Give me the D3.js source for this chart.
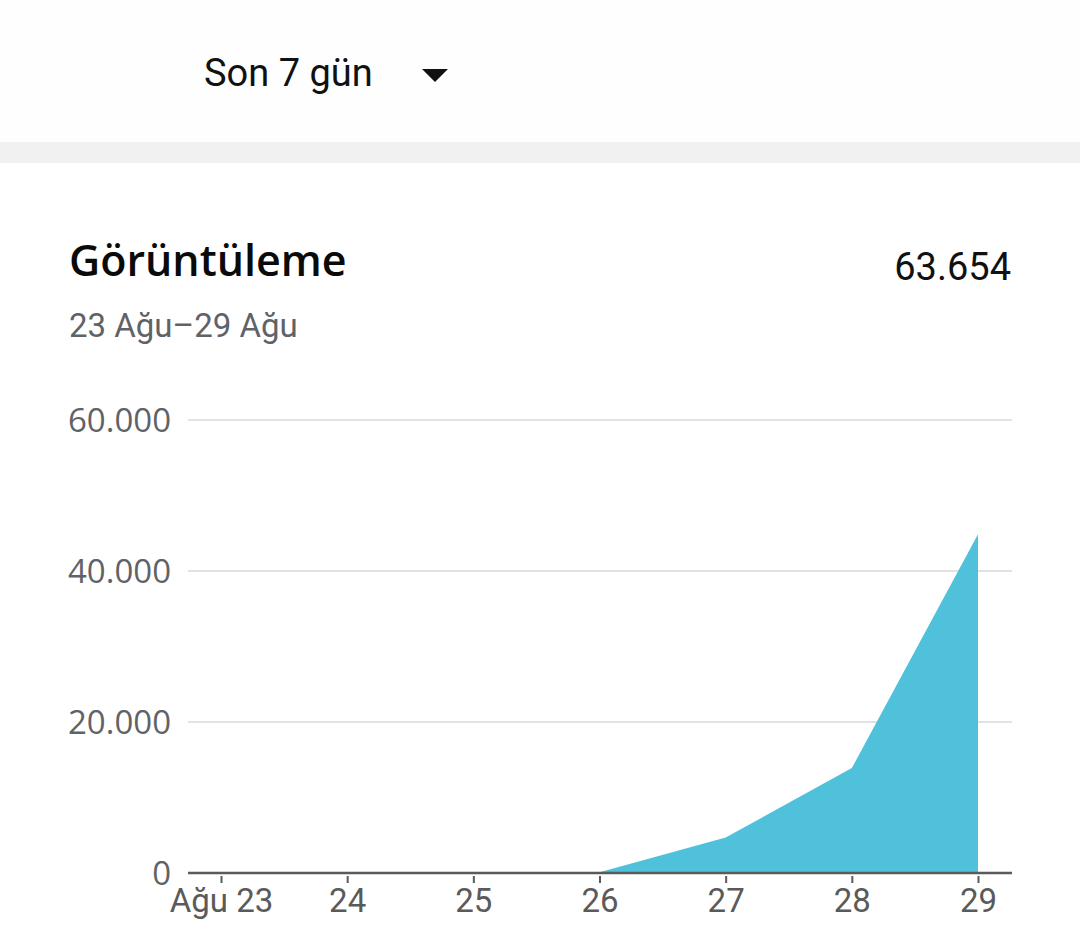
<!DOCTYPE html>
<html>
<head>
<meta charset="utf-8">
<script src="https://cdn.jsdelivr.net/npm/d3@7"></script>
<style>
  body { margin: 0; background: #ffffff; }
  svg { display: block; }
</style>
</head>
<body>
<svg id="chart"></svg>
<script>
// chart data
const days = ["Ağu 23", "24", "25", "26", "27", "28", "29"];
const views = [0, 10, 60, 100, 4700, 13900, 44884];
const yTicks = [0, 20000, 40000, 60000];
const totalLabel = "63.654";
const rangeLabel = "23 Ağu–29 Ağu";

const W = 1080, H = 949;
const margin = { left: 188, right: 68, top: 420, bottom: 76 };

const svg = d3.select('#chart')
    .attr('width', W)
    .attr('height', H);

// page background
svg.append('rect').attr('width', W).attr('height', H).attr('fill', '#ffffff');
svg.append('rect').attr('width', W).attr('height', 142).attr('fill', '#fefefe');
svg.append('rect').attr('y', 142).attr('width', W).attr('height', 21).attr('fill', '#f1f1f1');

// dropdown
svg.append('text')
    .attr('x', 204).attr('y', 86)
    .style('font-family', 'Roboto')
    .style('font-size', '38px')
    .attr('fill', '#111')
    .text('Son 7 gün');
svg.append('path')
    .attr('d', 'M422,69 L448,69 L435,82 Z')
    .attr('fill', '#111');

// header
svg.append('text')
    .attr('x', 69).attr('y', 276)
    .style('font-family', '"Open Sans"')
    .style('font-weight', 600)
    .style('font-size', '43px')
    .attr('fill', '#0a0a0a')
    .text('Görüntüleme');
svg.append('text')
    .attr('x', 1011).attr('y', 280)
    .attr('text-anchor', 'end')
    .style('font-family', 'Roboto')
    .style('font-size', '38px')
    .attr('fill', '#111')
    .text(totalLabel);
svg.append('text')
    .attr('x', 69).attr('y', 337)
    .style('font-family', 'Roboto')
    .style('font-size', '33px')
    .attr('fill', '#5f6368')
    .text(rangeLabel);

const width = W - margin.left - margin.right;
const plotH = 873 - margin.top;

const xScale = d3.scalePoint()
    .domain(days)
    .range([221 - margin.left, 978 - margin.left]);

const yScale = d3.scaleLinear()
    .domain([0, 60000])
    .range([plotH, 0]);

const chart = svg.append('g')
    .attr('transform', `translate(${margin.left},${margin.top})`);

// gridlines
chart.append('g')
    .selectAll('line')
    .data(yTicks.filter(d => d > 0))
    .join('line')
    .attr('x1', 0).attr('x2', width)
    .attr('y1', d => yScale(d)).attr('y2', d => yScale(d))
    .attr('stroke', '#e2e2e2')
    .attr('stroke-width', 2);

// y labels
chart.append('g')
    .selectAll('text')
    .data(yTicks)
    .join('text')
    .attr('x', -17)
    .attr('y', d => yScale(d))
    .attr('dy', '0.36em')
    .attr('text-anchor', 'end')
    .style('font-family', '"Open Sans"')
    .style('font-size', '33px')
    .attr('fill', '#5f6368')
    .text(d => d3.format(',')(d).replace(/,/g, '.'));

// area
const area = d3.area()
    .x((d, i) => xScale(days[i]))
    .y0(yScale(0))
    .y1(d => yScale(d));

chart.append('path')
    .datum(views)
    .attr('d', area)
    .attr('fill', '#4fc1db');

// x axis
const xAxis = d3.axisBottom(xScale)
    .tickSize(10)
    .tickSizeOuter(0)
    .tickPadding(6);

const xAxisG = chart.append('g')
    .attr('class', 'x-axis')
    .attr('transform', `translate(0,${plotH})`)
    .call(xAxis);

xAxisG.select('.domain').remove();
xAxisG.append('line')
    .attr('x1', 0).attr('x2', width)
    .attr('y1', 0).attr('y2', 0)
    .attr('stroke', '#5a5a5a')
    .attr('stroke-width', 2.5);
xAxisG.selectAll('.tick line')
    .attr('stroke', '#5a5a5a')
    .attr('stroke-width', 2)
    .attr('y1', 3);
xAxisG.selectAll('.tick text')
    .style('font-family', 'Roboto')
    .style('font-size', '33px')
    .attr('fill', '#5a5a5a');
</script>
</body>
</html>
